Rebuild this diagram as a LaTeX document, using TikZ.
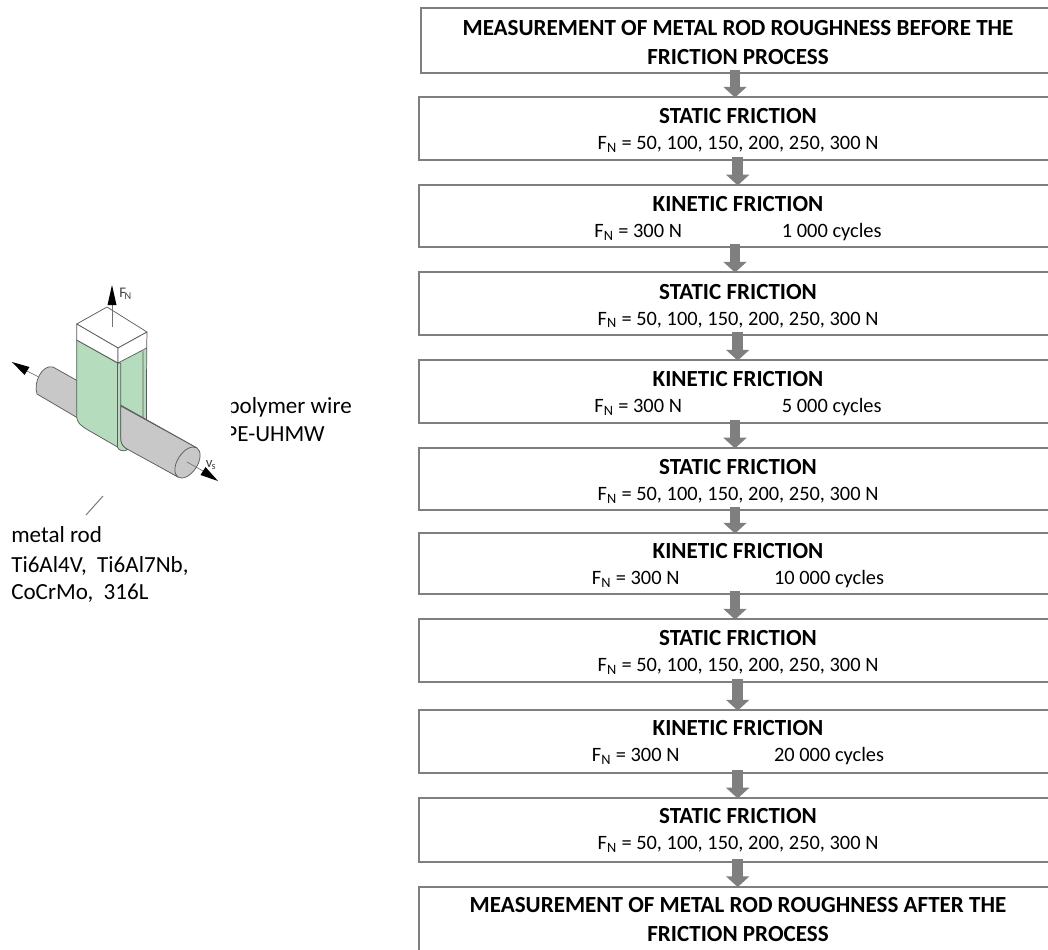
\documentclass[tikz,border=0pt]{standalone}
\usepackage{fontspec}
\setmainfont{Carlito}
\usetikzlibrary{arrows.meta}
\tikzset{
  flowbox/.style={draw=boxgray,line width=1.4pt,fill=white,minimum width=478.5pt,inner sep=0pt,align=center,font=\fontsize{15.3}{19.5}\selectfont},
  endbox/.style={flowbox,font=\fontsize{17.3}{21.75}\selectfont\bfseries},
  flowarrow/.style={draw=arrowgray,line width=8pt,-{Triangle[width=17pt,length=8pt]},shorten >=-1pt,shorten <=-3pt},
  plain/.style={inner sep=0pt,font=\fontsize{17.3}{20}\selectfont},
  tiny/.style={inner sep=0pt,text=black!75,font=\fontsize{11}{12}\selectfont},
  edge/.style={draw=edgegray,line width=0.55pt,line join=round},
  force/.style={draw=black!55,line width=0.5pt},
  forcehead/.style={fill=black,draw=none},
}
\definecolor{boxgray}{HTML}{7F7F7F}
\definecolor{arrowgray}{HTML}{7F7F7F}
\definecolor{edgegray}{HTML}{5A5A5A}
\definecolor{wiregreen}{HTML}{B5DCBC}
\definecolor{rodgray}{HTML}{C8C8C8}
\newcommand{\titletext}[1]{{\fontsize{17.3}{19.5}\selectfont\bfseries #1}}
\newcommand{\statictext}[1]{\rule{0pt}{#1}\titletext{STATIC FRICTION}\\F\textsubscript{N} = 50, 100, 150, 200, 250, 300 N}
\newcommand{\kintext}[3]{\rule{0pt}{#1}\titletext{KINETIC FRICTION}\\F\textsubscript{N} = 300 N\hspace{#2}#3}
\begin{document}
\begin{tikzpicture}[x=0.75pt,y=-0.75pt]
\useasboundingbox (0,0) rectangle (1048,949);
% flow boxes
\node[endbox,minimum width=475.5pt,minimum height=48.5pt] (b0) at (738,40.5) {\rule{0pt}{14pt}MEASUREMENT OF METAL ROD ROUGHNESS BEFORE THE\\FRICTION PROCESS};
\node[flowbox,minimum height=47pt] (b1) at (738,128.5) {\statictext{14.5pt}};
\node[flowbox,minimum height=46.5pt] (b2) at (738,216) {\kintext{15pt}{75pt}{1 000 cycles}};
\node[flowbox,minimum height=47pt] (b3) at (738,303.5) {\statictext{15pt}};
\node[flowbox,minimum height=47pt] (b4) at (738,391.5) {\kintext{14.5pt}{75pt}{5 000 cycles}};
\node[flowbox,minimum height=46.5pt] (b5) at (738,479) {\statictext{14.5pt}};
\node[flowbox,minimum height=45.5pt] (b6) at (738,563.5) {\kintext{14.8pt}{71pt}{10 000 cycles}};
\node[flowbox,minimum height=47pt] (b7) at (738,650.5) {\statictext{14.8pt}};
\node[flowbox,minimum height=47pt] (b8) at (738,741.5) {\kintext{13.5pt}{71pt}{20 000 cycles}};
\node[flowbox,minimum height=48pt] (b9) at (738,830) {\statictext{11pt}};
\node[endbox,minimum height=50pt] (b10) at (738,920) {MEASUREMENT OF METAL ROD ROUGHNESS AFTER THE\\FRICTION PROCESS};
\foreach \a/\b/\x in {b0/b1/735,b1/b2/737.7,b2/b3/735,b3/b4/737.7,b4/b5/735,b5/b6/735,b6/b7/735,b7/b8/737.7,b8/b9/737.7,b9/b10/737.7}
  \draw[flowarrow] (\x,0 |- \a.south) -- (\x,0 |- \b.north);
% labels
\node[plain,anchor=base east] (wire1) at (352,413) {polymer wire};
\node[plain,anchor=base east] (wire2) at (325,441) {PE-UHMW};
\fill[white] (200,390) rectangle (231,445);
\node[plain,anchor=base west] (rod1) at (11,542) {metal rod};
\node[plain,anchor=base west] (rod2) at (11,572) {Ti6Al4V,\ \ Ti6Al7Nb,};
\node[plain,anchor=base west] (rod3) at (11,599) {CoCrMo,\ \ 316L};
\draw[draw=boxgray,line width=0.8pt] (103,496) -- (86,515);
% right face of wire
\fill[wiregreen] (117.5,363) -- (146.7,348) -- (146.7,425) -- (120,425) -- cycle;
\draw[edge] (146.7,348) -- (146.4,421) (143,351) -- (143,418);
% rod
\path[fill=rodgray,edge] (53,367) -- (197,448) -- (178,477) -- (37,394)
  .. controls (33,383) and (42,364) .. (53,367) -- cycle;
% left face of wire
\path[fill=wiregreen,edge] (76.7,340) -- (117.5,363) -- (117.5,447) -- (88,430)
  .. controls (80,425) and (76.7,423) .. (76.7,415) -- cycle;
% front strip
\path[fill=wiregreen,edge] (117.5,363) -- (120.7,363) -- (120.7,437)
  .. controls (120.7,444) and (123,447) .. (128,449.5)
  .. controls (123,452.5) and (118,450) .. (117.5,447) -- cycle;
% rod part in front of wire
\path[fill=rodgray,edge] (120.7,406) -- (197,448) -- (178,477) -- (128,449.5)
  .. controls (123,447) and (120.7,444) .. (120.7,437) -- cycle;
\path[fill=rodgray,edge] (187.5,462.5) ellipse [x radius=13pt,y radius=7.5pt,rotate=57];
% white cap
\path[fill=white,edge] (107,307) -- (147,332) -- (118,348) -- (76.7,324) -- cycle;
\path[fill=white,edge] (76.7,324) -- (118,348) -- (118,363) -- (76.7,340) -- cycle;
\path[fill=white,edge] (118,348) -- (147,332) -- (146.7,348) -- (118,363) -- cycle;
% force arrows
\coordinate (fa) at (112,327); \coordinate (fb) at (112,305); \coordinate (ft) at (112,285);
\draw[force] (fa) -- (fb);
\fill[forcehead] (ft) -- (116.5,305) -- (107.5,305) -- cycle;
\coordinate (la) at (39,377); \coordinate (lb) at (27,371); \coordinate (lt) at (12,362);
\draw[force] (la) -- (lb);
\fill[forcehead] (lt) -- (29.5,367) -- (24.5,375) -- cycle;
\coordinate (ra) at (187,462); \coordinate (rb) at (203,471); \coordinate (rt) at (218,481);
\draw[force] (ra) -- (rb);
\fill[forcehead] (rt) -- (200.5,475) -- (205.5,467) -- cycle;
\node[tiny,anchor=base west] (fn) at (119,297) {F\kern-1pt\textsubscript{N}};
\node[tiny,anchor=base west] (vs) at (205.5,467) {v\kern-0.5pt\textsubscript{s}};
\end{tikzpicture}
\end{document}
